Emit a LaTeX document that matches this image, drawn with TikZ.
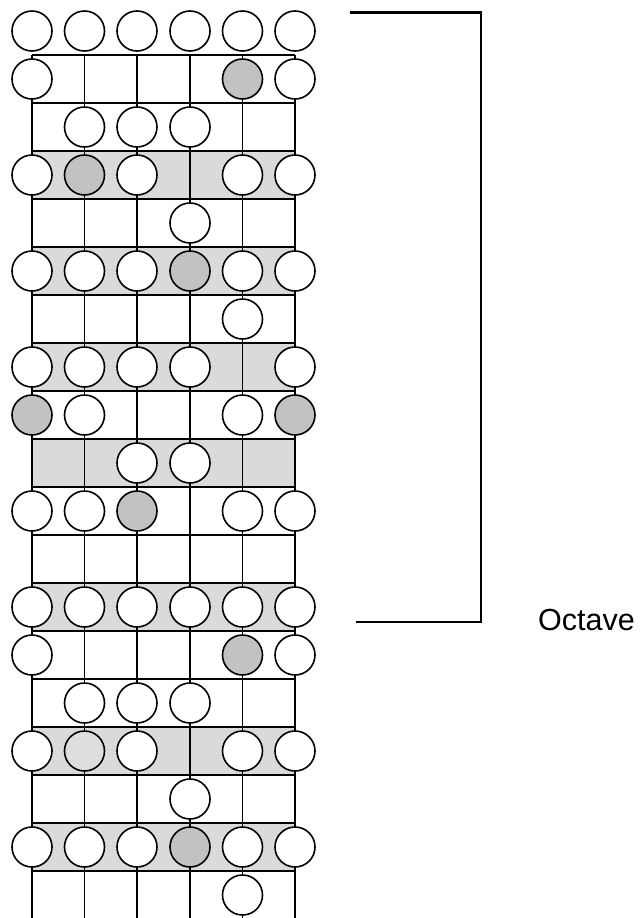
\documentclass[tikz,border=0pt]{standalone}
\usepackage{fontspec}
\setmainfont{Liberation Sans}
\definecolor{bandgray}{HTML}{DADADA}
\definecolor{dotgray}{HTML}{C2C2C2}
\definecolor{lightgray}{HTML}{DEDEDE}
\begin{document}
\begin{tikzpicture}[x=1pt,y=-1pt,
  wire/.style={line width=1.8pt,black},
  fingerdot/.style={circle,draw=black,line width=1.6pt,minimum size=40pt,inner sep=0pt},
  bracketline/.style={line width=2.8pt,black},
  lbl/.style={font=\fontsize{30.5}{36}\selectfont,inner sep=0pt}]
\useasboundingbox (0,0) rectangle (640,918);
\def\sx{{32,84.5,137,190,242.5,295}}
% fret-marker bands
\foreach \k in {3,5,7,9,12,15,17}
  \fill[bandgray] (32,{55+48*(\k-1)}) rectangle (295,{55+48*\k});
% strings
\foreach \i in {0,...,5}
  \draw[wire] ({\sx[\i]},55) -- ({\sx[\i]},918);
% frets
\foreach \k in {0,...,17}
  \draw[wire] (32,{55+48*\k}) -- (295,{55+48*\k});
% finger positions
\foreach \k/\s/\c in {
  0/1/white,0/2/white,0/3/white,0/4/white,0/5/white,0/6/white,
  1/1/white,1/5/dotgray,1/6/white,
  2/2/white,2/3/white,2/4/white,
  3/1/white,3/2/dotgray,3/3/white,3/5/white,3/6/white,
  4/4/white,
  5/1/white,5/2/white,5/3/white,5/4/dotgray,5/5/white,5/6/white,
  6/5/white,
  7/1/white,7/2/white,7/3/white,7/4/white,7/6/white,
  8/1/dotgray,8/2/white,8/5/white,8/6/dotgray,
  9/3/white,9/4/white,
  10/1/white,10/2/white,10/3/dotgray,10/5/white,10/6/white,
  12/1/white,12/2/white,12/3/white,12/4/white,12/5/white,12/6/white,
  13/1/white,13/5/dotgray,13/6/white,
  14/2/white,14/3/white,14/4/white,
  15/1/white,15/2/lightgray,15/3/white,15/5/white,15/6/white,
  16/4/white,
  17/1/white,17/2/white,17/3/white,17/4/dotgray,17/5/white,17/6/white,
  18/5/white}
  \node[fingerdot,fill=\c] (d-\k-\s) at ({\sx[\s-1]},{31+48*\k}) {};
% octave bracket
\coordinate (bt) at (350,12.7);
\coordinate (bc1) at (481,12.7);
\coordinate (bc2) at (481,622);
\coordinate (bb) at (356,622);
\draw[bracketline] (bt) -- (bc1) -- (bc2) -- (bb);
\node[lbl,anchor=base west] (oct) at (538,630) {Octave};
\end{tikzpicture}
\end{document}
